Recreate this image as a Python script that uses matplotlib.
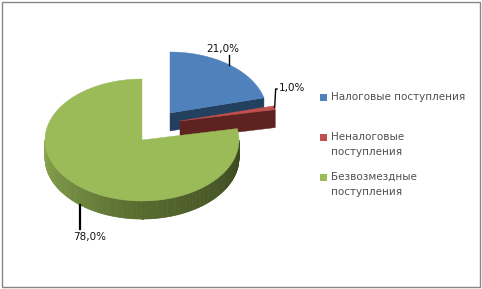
import numpy as np
import matplotlib
matplotlib.use("Agg")
import matplotlib.pyplot as plt
from matplotlib.patches import Polygon, Rectangle
import textwrap

# ---- data ----
categories = ["Налоговые поступления", "Неналоговые поступления", "Безвозмездные поступления"]
values = [21.0, 1.0, 78.0]
labels = ["21,0%", "1,0%", "78,0%"]

# ---- style / layout ----
top_colors = ["#4F81BD", "#C0504D", "#9BBB59"]
face_colors = ["#23405F", "#5E2321", "#4A5B28"]
side_stops = [(90, "#3A4720"), (180, "#56692D"), (270, "#8AA850")]
explode = [(28, -27), (38, -19), (0, 0)]
CX, CY, RX, RY, DEPTH = 142, 140, 97, 61, 18
W, H = 482, 289

plt.rcParams['font.family'] = ['DejaVu Sans']
fig = plt.figure(figsize=(W / 100, H / 100), dpi=100)
ax = fig.add_axes([0, 0, 1, 1])
ax.set_xlim(0, W)
ax.set_ylim(H, 0)
ax.axis('off')

# border
ax.add_patch(Rectangle((1.5, 1.5), W - 4, H - 4, fill=False, edgecolor="#868686", lw=1.0))


def hex2rgb(h):
    h = h.lstrip('#')
    return np.array([int(h[i:i + 2], 16) / 255 for i in (0, 2, 4)])


def side_color(deg):
    degs = [s[0] for s in side_stops]
    cols = np.array([hex2rgb(s[1]) for s in side_stops])
    return tuple(np.array([np.interp(deg, degs, cols[:, k]) for k in range(3)]))


def pt(cx, cy, th, r=1.0):
    return cx + r * RX * np.sin(th), cy - r * RY * np.cos(th)


total = sum(values)
cum = np.concatenate([[0], np.cumsum(values)]) / total * 2 * np.pi
anchors = []
for i in range(len(values)):
    th1, th2 = cum[i], cum[i + 1]
    vx, vy = CX + explode[i][0], CY + explode[i][1]
    ths = np.linspace(th1, th2, max(4, int(np.degrees(th2 - th1)) + 2))
    arc = np.array([pt(vx, vy, t) for t in ths])
    eps = 1e-6
    if np.sin(th2) > eps:
        ex, ey = pt(vx, vy, th2)
        ax.add_patch(Polygon([(vx, vy), (ex, ey), (ex, ey + DEPTH), (vx, vy + DEPTH)],
                             closed=True, facecolor=face_colors[i], edgecolor=face_colors[i], lw=0.3))
    if np.sin(th1) < -eps:
        ex, ey = pt(vx, vy, th1)
        ax.add_patch(Polygon([(vx, vy), (ex, ey), (ex, ey + DEPTH), (vx, vy + DEPTH)],
                             closed=True, facecolor=face_colors[i], edgecolor=face_colors[i], lw=0.3))
    a = max(th1, np.pi / 2)
    b = min(th2, 3 * np.pi / 2)
    if b > a:
        sts = np.linspace(a, b, int(np.degrees(b - a)) + 2)
        for t0, t1 in zip(sts[:-1], sts[1:]):
            p0 = pt(vx, vy, t0)
            p1 = pt(vx, vy, t1)
            c = side_color(np.degrees((t0 + t1) / 2))
            ax.add_patch(Polygon([p0, p1, (p1[0], p1[1] + DEPTH), (p0[0], p0[1] + DEPTH)],
                                 closed=True, facecolor=c, edgecolor=c, lw=0.5))
    ax.add_patch(Polygon(np.vstack([[vx, vy], arc]), closed=True,
                         facecolor=top_colors[i], edgecolor=top_colors[i], lw=0.3))
    mid = (th1 + th2) / 2
    mx, my = pt(vx, vy, mid)
    if np.cos(mid) < 0:
        my += DEPTH
    anchors.append((mx, my))

# data labels with leader lines
lab_pos = [(223, 49), (292, 88), (90, 237)]
fs = 7.5
ax.plot([anchors[0][0], anchors[0][0]], [anchors[0][1], lab_pos[0][1] + 6], color="black", lw=1.0)
ax.plot([anchors[1][0], anchors[1][0] + 1, lab_pos[1][0] - 15],
        [anchors[1][1], lab_pos[1][1] + 1, lab_pos[1][1] + 1], color="black", lw=1.0)
ax.plot([anchors[2][0], anchors[2][0]], [anchors[2][1], lab_pos[2][1] - 8], color="black", lw=1.6)
for i in range(3):
    ax.text(lab_pos[i][0], lab_pos[i][1], labels[i], ha='center', va='center',
            fontsize=fs, color="#111111")

# legend
leg_y = [97, 137, 177]
for i, cat in enumerate(categories):
    ax.add_patch(Rectangle((320, leg_y[i] - 3.5), 7, 7, facecolor=top_colors[i], edgecolor='none'))
    txt = textwrap.fill(cat, 21)
    ax.text(331, leg_y[i] - 5.5, txt, ha='left', va='top', fontsize=fs,
            color="#505050", linespacing=1.7)

fig.savefig("out.png", dpi=100)
